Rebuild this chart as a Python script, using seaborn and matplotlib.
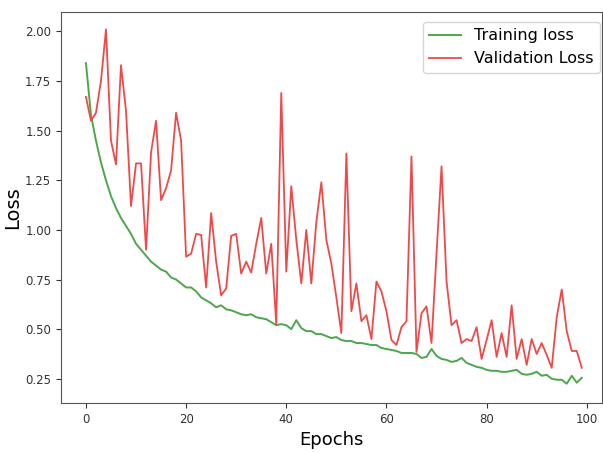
import numpy as np
import pandas as pd
import matplotlib
matplotlib.use("Agg")
import matplotlib.pyplot as plt
import seaborn as sns

# per-epoch losses
train_loss = [
    1.84, 1.58, 1.45, 1.34, 1.25, 1.17, 1.11, 1.06, 1.02, 0.98,
    0.93, 0.90, 0.87, 0.84, 0.82, 0.80, 0.79, 0.76, 0.75, 0.73,
    0.71, 0.71, 0.69, 0.66, 0.645, 0.63, 0.61, 0.62, 0.60, 0.595,
    0.585, 0.575, 0.57, 0.575, 0.56, 0.555, 0.55, 0.535, 0.52, 0.525,
    0.52, 0.50, 0.545, 0.505, 0.49, 0.49, 0.475, 0.475, 0.465, 0.455,
    0.46, 0.445, 0.44, 0.44, 0.43, 0.43, 0.425, 0.42, 0.42, 0.405,
    0.40, 0.395, 0.39, 0.38, 0.38, 0.38, 0.375, 0.355, 0.36, 0.40,
    0.365, 0.35, 0.345, 0.335, 0.34, 0.355, 0.33, 0.32, 0.31, 0.305,
    0.295, 0.29, 0.29, 0.285, 0.285, 0.29, 0.295, 0.275, 0.27, 0.275,
    0.285, 0.265, 0.27, 0.25, 0.245, 0.245, 0.225, 0.265, 0.23, 0.255,
]
val_loss = [
    1.67, 1.55, 1.59, 1.75, 2.01, 1.45, 1.33, 1.83, 1.60, 1.12,
    1.335, 1.335, 0.90, 1.39, 1.55, 1.15, 1.21, 1.30, 1.59, 1.45,
    0.865, 0.88, 0.98, 0.975, 0.71, 1.085, 0.84, 0.67, 0.705, 0.97,
    0.98, 0.78, 0.84, 0.785, 0.93, 1.06, 0.78, 0.93, 0.525, 1.69,
    0.79, 1.22, 0.95, 0.73, 1.00, 0.73, 1.04, 1.24, 0.95, 0.83,
    0.66, 0.48, 1.385, 0.59, 0.73, 0.54, 0.57, 0.45, 0.74, 0.69,
    0.59, 0.445, 0.42, 0.51, 0.54, 1.37, 0.385, 0.58, 0.615, 0.43,
    0.88, 1.32, 0.74, 0.52, 0.545, 0.43, 0.45, 0.44, 0.51, 0.35,
    0.445, 0.545, 0.36, 0.48, 0.36, 0.62, 0.35, 0.45, 0.32, 0.45,
    0.375, 0.43, 0.37, 0.305, 0.56, 0.70, 0.49, 0.39, 0.39, 0.305,
]
epochs = np.arange(len(train_loss))

df = pd.DataFrame({"Epochs": epochs, "train": train_loss, "val": val_loss})

fig = plt.figure(figsize=(6.03, 4.53), dpi=100)
ax = fig.add_axes([0.101, 0.110, 0.897, 0.864])

sns.lineplot(data=df, x="Epochs", y="train", ax=ax, color="#4ca64c",
             linewidth=1.4, label="Training loss")
sns.lineplot(data=df, x="Epochs", y="val", ax=ax, color="#f24848",
             linewidth=1.3, label="Validation Loss")

ax.set_xlim(-5, 103)
ax.set_ylim(0.127, 2.099)
ax.set_xticks([0, 20, 40, 60, 80, 100])
ax.set_yticks([0.25, 0.50, 0.75, 1.00, 1.25, 1.50, 1.75, 2.00])
ax.set_yticklabels([f"{t:.2f}" for t in ax.get_yticks()])
ax.tick_params(labelsize=8.5, colors="#333333")
for s in ax.spines.values():
    s.set_color("#555555")

ax.set_xlabel("Epochs", fontsize=13)
ax.set_ylabel("Loss", fontsize=14, labelpad=2)

ax.legend(loc="upper right", bbox_to_anchor=(0.996, 0.974), borderaxespad=0,
          fontsize=11.5, handlelength=2.0)

fig.savefig("out.png", dpi=100)
